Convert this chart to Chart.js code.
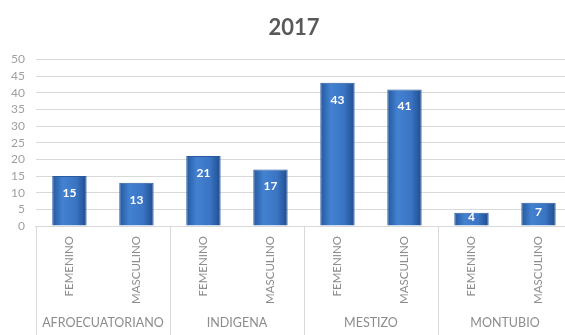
<!DOCTYPE html>
<html>
<head>
<meta charset="utf-8">
<script src="https://cdn.jsdelivr.net/npm/chart.js@4.4.0/dist/chart.umd.min.js"></script>
<style>
  html, body { margin: 0; padding: 0; background: #fff; overflow: hidden; }
  #wrap { width: 588px; height: 335px; }
</style>
</head>
<body>
<div id="wrap"><canvas id="myBarChart"></canvas></div>
<script>
// Chart data
const title = '2017';
const groups = ['AFROECUATORIANO', 'INDIGENA', 'MESTIZO', 'MONTUBIO'];
const genders = ['FEMENINO', 'MASCULINO'];
const values = [15, 13, 21, 17, 43, 41, 4, 7];
const yTicks = [0, 5, 10, 15, 20, 25, 30, 35, 40, 45, 50];

// One label per bar: gender inside each group
const labels = groups.flatMap(() => genders);

const fontFamily = "Lato, 'Open Sans', sans-serif";
const lineGray = '#d9d9d9';
const textGray = '#8c8c8c';

// Horizontal bevel-looking fill for every bar
function barFill(context) {
    const chart = context.chart;
    const xScale = chart.scales.x;
    if (!xScale || !chart.chartArea) return '#3b74c2';
    const cx = xScale.getPixelForValue(context.dataIndex);
    const half = 17;
    const g = chart.ctx.createLinearGradient(cx - half, 0, cx + half, 0);
    g.addColorStop(0, '#24589f');
    g.addColorStop(0.3, '#4382d1');
    g.addColorStop(0.7, '#3a74c3');
    g.addColorStop(1, '#1f4d8e');
    return g;
}

// Draws the value inside each bar near its top
const valueLabels = {
    id: 'valueLabels',
    afterDatasetsDraw(chart) {
        const ctx = chart.ctx;
        const meta = chart.getDatasetMeta(0);
        ctx.save();
        ctx.fillStyle = '#ffffff';
        ctx.font = 'bold 12px ' + fontFamily;
        ctx.textAlign = 'center';
        ctx.textBaseline = 'middle';
        meta.data.forEach((bar, i) => {
            const h = bar.base - bar.y;
            const y = bar.y + Math.min(17, h / 2 - 2);
            ctx.fillText(values[i], bar.x, y);
        });
        ctx.restore();
    }
};

// Draws the box lines between the groups under the axis
const groupLines = {
    id: 'groupLines',
    afterDraw(chart) {
        const ctx = chart.ctx;
        const x = chart.scales.x;
        const step = x.width / groups.length;
        ctx.save();
        ctx.strokeStyle = lineGray;
        ctx.lineWidth = 1;
        for (let i = 0; i <= groups.length; i++) {
            const px = Math.round(x.left + i * step) + 0.5;
            ctx.beginPath();
            ctx.moveTo(px, x.top);
            ctx.lineTo(px, chart.height);
            ctx.stroke();
        }
        ctx.restore();
    }
};

const ctx = document.getElementById('myBarChart').getContext('2d');

new Chart(ctx, {
    type: 'bar',
    data: {
        labels: labels,
        datasets: [{
            data: values,
            backgroundColor: barFill,
            borderColor: '#2a5a9c',
            borderWidth: 1,
            barPercentage: 0.9,
            categoryPercentage: 0.57
        }]
    },
    options: {
        responsive: true,
        maintainAspectRatio: false,
        animation: false,
        layout: {
            padding: { left: 0, right: 0, top: 0, bottom: 4 }
        },
        plugins: {
            legend: { display: false },
            tooltip: { enabled: false },
            title: {
                display: true,
                text: title,
                color: '#595959',
                font: { family: fontFamily, size: 22, weight: 'bold' },
                padding: { top: 15, bottom: 18 }
            }
        },
        scales: {
            y: {
                min: 0,
                max: 50,
                afterBuildTicks: (scale) => {
                    scale.ticks = yTicks.map(v => ({ value: v }));
                },
                border: { display: false },
                grid: { color: lineGray, drawTicks: false },
                ticks: {
                    autoSkip: false,
                    stepSize: 5,
                    color: '#a0a0a0',
                    padding: 11,
                    font: { family: fontFamily, size: 12 }
                }
            },
            // empty right-hand margin so the title stays centred on the page
            yRight: {
                position: 'right',
                min: 0,
                max: 50,
                border: { display: false },
                grid: { display: false, drawTicks: false },
                ticks: { display: false },
                afterFit: (scale) => { scale.width = 16; }
            },
            x: {
                border: { display: true, color: lineGray },
                grid: { display: false },
                ticks: {
                    autoSkip: false,
                    minRotation: 90,
                    maxRotation: 90,
                    padding: 2,
                    color: textGray,
                    font: { family: fontFamily, size: 11.5 }
                }
            },
            x2: {
                type: 'category',
                position: 'bottom',
                labels: groups,
                offset: true,
                border: { display: false },
                grid: { display: false },
                ticks: {
                    color: textGray,
                    padding: 1,
                    font: { family: fontFamily, size: 12.5 }
                }
            }
        }
    },
    plugins: [valueLabels, groupLines]
});
</script>
</body>
</html>
